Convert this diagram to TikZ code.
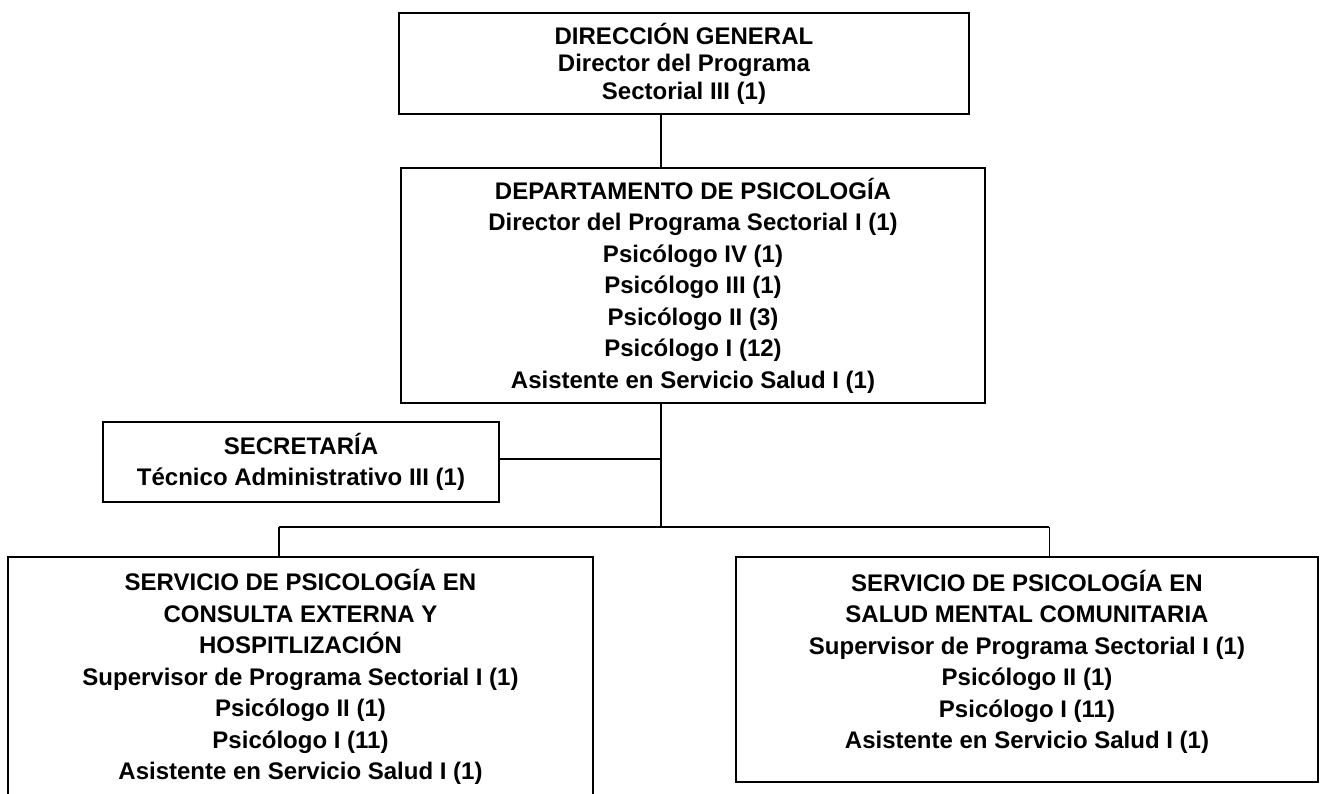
\documentclass[tikz,border=0pt]{standalone}
\usepackage{fontspec}
\setmainfont{Liberation Sans}
\usetikzlibrary{positioning}

\begin{document}
\begin{tikzpicture}[x=1pt,y=-1pt,
    caja/.style={draw,line width=1.6pt,align=center,inner sep=0pt,
      font=\bfseries\fontsize{24}{31.5}\selectfont},
    linea/.style={line width=1.6pt}]

   \useasboundingbox (0,0) rectangle (1320,794);

   % cajas
   \node[caja,minimum width=570pt,minimum height=101pt,
     font=\bfseries\fontsize{24}{27.5}\selectfont] (dirgen) at (684,63.5)
     {DIRECCIÓN GENERAL\\Director del Programa\\Sectorial III (1)};

   \node[caja,minimum width=584pt,minimum height=235pt] (depto) at (693,285.5)
     {DEPARTAMENTO DE PSICOLOGÍA\\Director del Programa Sectorial I (1)\\
      Psicólogo IV (1)\\Psicólogo III (1)\\Psicólogo II (3)\\
      Psicólogo I (12)\\Asistente en Servicio Salud I (1)};

   \node[caja,minimum width=396pt,minimum height=80pt] (secre) at (301,462)
     {SECRETARÍA\\Técnico Administrativo III (1)};

   \node[caja,minimum width=585pt,minimum height=240pt] (consulta) at (300.5,677)
     {SERVICIO DE PSICOLOGÍA EN\\CONSULTA EXTERNA Y\\HOSPITLIZACIÓN\\
      Supervisor de Programa Sectorial I (1)\\Psicólogo II (1)\\
      Psicólogo I (11)\\Asistente en Servicio Salud I (1)};

   \node[caja,minimum width=582pt,minimum height=225pt,text depth=20pt] (comunit) at (1027,669.5)
     {SERVICIO DE PSICOLOGÍA EN\\SALUD MENTAL COMUNITARIA\\
      Supervisor de Programa Sectorial I (1)\\Psicólogo II (1)\\
      Psicólogo I (11)\\Asistente en Servicio Salud I (1)};

   % lineas
   \coordinate (eje) at (661,527);
   \coordinate (ramaizq) at (279,527);
   \coordinate (ramader) at (1049,527);

   \draw[line width=2.6pt] (dirgen.south -| eje) -- (depto.north -| eje);
   \draw[linea] (depto.south -| eje) -- (eje);
   \draw[linea] ([yshift=3pt]secre.east) -- ([yshift=3pt]secre.east -| eje);
   \draw[linea] (ramaizq) -- (ramader);
   \draw[linea] (ramaizq) -- (consulta.north -| ramaizq);
   \draw[line width=1pt] (ramader) -- (comunit.north -| ramader);

\end{tikzpicture}
\end{document}
